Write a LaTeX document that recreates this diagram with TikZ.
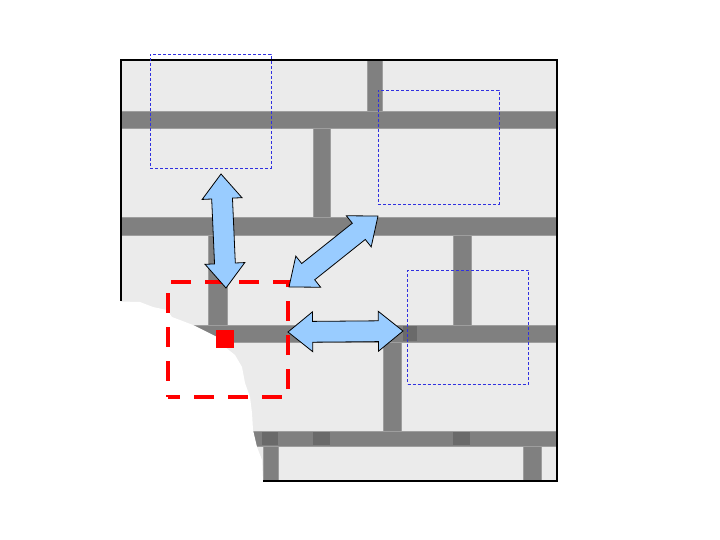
\documentclass[tikz,border=0pt]{standalone}
\usepackage{tikz}
\usetikzlibrary{calc,shapes.arrows}
\definecolor{brick}{RGB}{235,235,235}
\definecolor{mortar}{RGB}{128,128,128}
\definecolor{mortaredge}{RGB}{158,158,158}
\definecolor{mortardark}{RGB}{106,106,106}
\definecolor{patchblue}{RGB}{48,48,224}
\definecolor{arrowblue}{RGB}{153,204,255}
\definecolor{holered}{RGB}{255,0,0}

% fat double arrow between two named points
\newcommand{\fatarrow}[3]{%
  \path let \p1=($(#3)-(#2)$), \n1={atan2(\y1,\x1)}, \n2={veclen(\x1,\y1)} in
    node[fatarrow, minimum height={\n2}, rotate=\n1] (#1) at ($(#2)!0.5!(#3)$) {};}

\begin{document}
\begin{tikzpicture}[x=1pt,y=-1pt,
  joint/.style={fill=mortar,draw=mortaredge,line width=1},
  darkjoint/.style={fill=mortardark},
  bluepatch/.style={draw=patchblue,line width=0.8,dash pattern=on 3pt off 2pt,minimum width=121pt,minimum height=114pt,inner sep=0},
  redpatch/.style={draw=holered,line width=4.5,dash pattern=on 20pt off 14pt,dash phase=8pt,minimum width=120pt,minimum height=115pt,inner sep=0},
  fatarrow/.style={double arrow,draw=black,fill=arrowblue,line width=0.8,inner xsep=0,inner ysep=10pt,minimum width=39pt,double arrow head extend=9.5pt,double arrow tip angle=78}]
\useasboundingbox (0,0) rectangle (720,540);
% wall
\fill[brick] (121,60) rectangle (557,481);
\draw[joint] (121,112) rectangle (557,129); % bed joint 1
\draw[joint] (121,218) rectangle (557,235); % bed joint 2
\draw[joint] (121,325) rectangle (557,342); % bed joint 3
\draw[joint] (121,431) rectangle (557,446); % bed joint 4
\draw[joint] (367,60) rectangle (382,112); % head joints row 1
\draw[joint] (313,129) rectangle (330,218); % row 2
\draw[joint] (208,235) rectangle (227,325); % row 3
\draw[joint] (453,235) rectangle (471,325);
\draw[joint] (383,342) rectangle (401,431); % row 4
\draw[joint] (263,446) rectangle (278,481); % row 5
\draw[joint] (523,446) rectangle (541,481);
\fill[mortar] (122,113) rectangle (556,128);
\fill[mortar] (122,219) rectangle (556,234);
\fill[mortar] (122,326) rectangle (556,341);
\fill[mortar] (122,432) rectangle (556,445);
% darker spots
\fill[darkjoint] (262,432) rectangle (278,445);
\fill[darkjoint] (313,432) rectangle (330,445);
\fill[darkjoint] (453,432) rectangle (470,445);
\fill[darkjoint] (403,326) rectangle (417,341);
% missing part
\fill[white] (100,301) -- (140,302) -- (153,307) -- (167,310) -- (172,317) -- (180,320)
  -- (193,325) -- (207,332) -- (217,337) -- (225,347) -- (235,355) -- (242,367)
  -- (245,383) -- (250,397) -- (252,413) -- (253,430) -- (257,447) -- (262,460)
  -- (263,482) -- (263,520) -- (100,520) -- cycle;
% frame
\draw[line width=2] (121,301) -- (121,60) -- (557,60) -- (557,481) -- (263,481);
% patches
\node[bluepatch] (src1) at (210.5,111) {};
\node[bluepatch] (src2) at (438.5,147.5) {};
\node[bluepatch] (src3) at (468,327) {};
\node[redpatch] (hole) at (228,339.5) {};
\node[fill=holered,minimum size=18pt,inner sep=0] (px) at (225,339) {};
% arrows
\coordinate (t1a) at (221,174);
\coordinate (t1b) at (226,288);
\coordinate (t2a) at (378,216);
\coordinate (t2b) at (289,287);
\coordinate (t3a) at (403,331);
\coordinate (t3b) at (288,332);
\fatarrow{a1}{t1b}{t1a}
\fatarrow{a2}{t2b}{t2a}
\fatarrow{a3}{t3b}{t3a}
\end{tikzpicture}
\end{document}
